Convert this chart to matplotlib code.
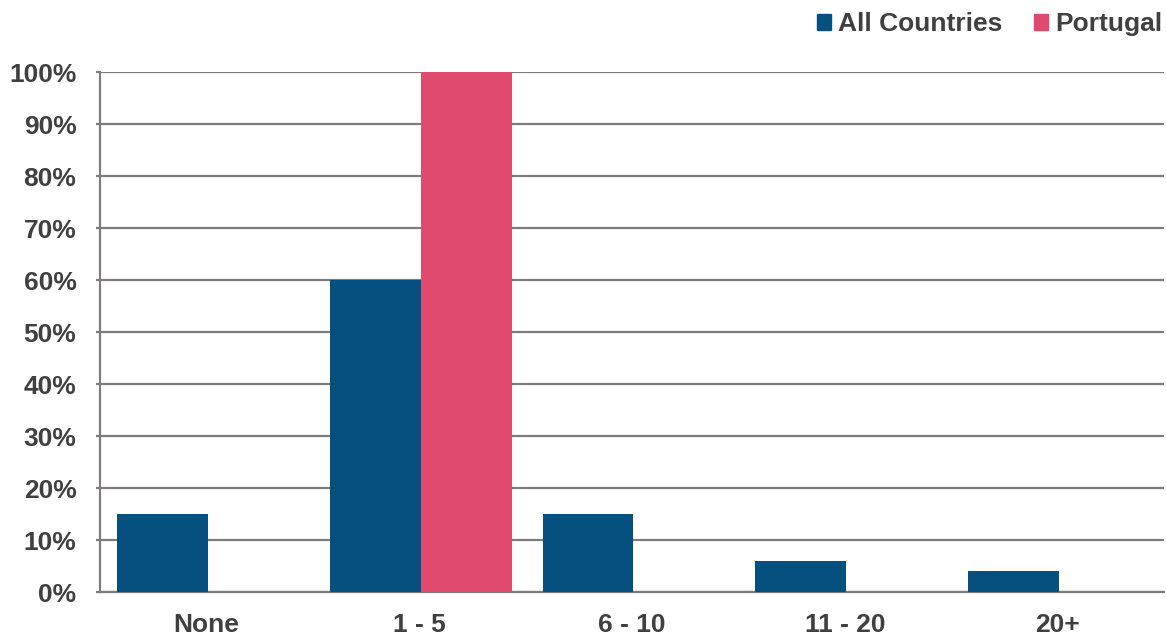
import matplotlib
matplotlib.use("Agg")
import matplotlib.pyplot as plt
import numpy as np
from matplotlib.patches import Patch

categories = ["None", "1 - 5", "6 - 10", "11 - 20", "20+"]
all_countries = [15, 60, 15, 6, 4]
portugal = [0, 100, 0, 0, 0]
series_names = ["All Countries", "Portugal"]
y_ticks = [0, 10, 20, 30, 40, 50, 60, 70, 80, 90, 100]

blue = "#05507f"
pink = "#e04a6e"
text_color = "#404040"
grid_color = "#7f7b7b"

plt.rcParams["font.family"] = ["Liberation Sans", "DejaVu Sans"]
plt.rcParams["font.weight"] = "bold"

fig = plt.figure(figsize=(11.66, 6.39), dpi=100)
ax = fig.add_axes([100 / 1166, 1 - 592 / 639, 1064 / 1166, 520 / 639])

x = np.arange(len(categories))
w = 0.427
ax.bar(x - w / 2 + 0.007, all_countries, width=w, color=blue, zorder=3)
ax.bar(x + w / 2 + 0.007, portugal, width=w, color=pink, zorder=3)

ax.set_xlim(-0.5, len(categories) - 0.5)
ax.set_ylim(0, 100)
ax.set_yticks(y_ticks)
ax.set_yticklabels([f"{v}%" for v in y_ticks])
ax.set_xticks(x)
ax.set_xticklabels(categories)

ax.yaxis.grid(True, color=grid_color, linewidth=1.6, zorder=0)
ax.set_axisbelow(True)
for side in ["top", "right"]:
    ax.spines[side].set_visible(False)
for side in ["left", "bottom"]:
    ax.spines[side].set_color(grid_color)
    ax.spines[side].set_linewidth(1.6)

ax.tick_params(axis="x", length=0, pad=15, labelsize=19, labelcolor=text_color)
ax.tick_params(axis="y", length=3, width=1.6, color=grid_color, pad=14,
               labelsize=19, labelcolor=text_color)
for lbl in ax.get_xticklabels() + ax.get_yticklabels():
    lbl.set_fontweight("bold")

handles = [Patch(color=blue), Patch(color=pink)]
leg = fig.legend(handles, series_names, loc="upper right",
                 bbox_to_anchor=(1.0, 1 - 8 / 639), ncol=2, frameon=False,
                 fontsize=19, handlelength=0.55, handleheight=0.55,
                 handletextpad=0.25, columnspacing=1.2,
                 borderaxespad=0.0, borderpad=0.15)
for t in leg.get_texts():
    t.set_color(text_color)
    t.set_fontweight("bold")

fig.savefig("out.png", dpi=100)
